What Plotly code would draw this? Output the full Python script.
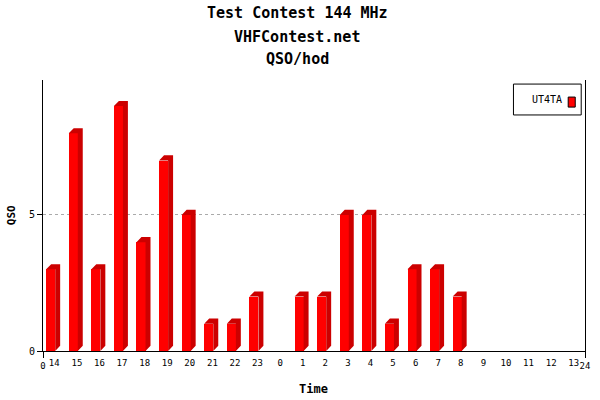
import plotly.graph_objects as go

categories = ["14", "15", "16", "17", "18", "19", "20", "21", "22", "23", "0",
              "1", "2", "3", "4", "5", "6", "7", "8", "9", "10", "11", "12", "13"]
qso = [3, 8, 3, 9, 4, 7, 5, 1, 1, 2, 0, 2, 2, 5, 5, 1, 3, 3, 2, 0, 0, 0, 0, 0]
series_name = "UT4TA"
title_lines = ["Test Contest 144 MHz", "VHFContest.net", "QSO/hod"]

FONT = "DejaVu Sans Mono"
FRONT = "#FF0000"
SIDE = "#CC0000"

# bar geometry in slot units
OFF = 0.14
W = 0.40
D = 0.22
DY = 0.19

centers = [i + OFF + W / 2 for i in range(len(categories))]

# side/top faces (3D effect) built from the data values
px, py = [], []
for i, v in enumerate(qso):
    if v <= 0:
        continue
    x0 = i + OFF
    x1 = x0 + W
    px += [x1, x1 + D, x1 + D, x0 + D, x0, x1, x1, None]
    py += [0, DY, v + DY, v + DY, v, v, 0, None]

fig = go.Figure()
fig.add_trace(go.Scatter(x=px, y=py, mode="lines", fill="toself",
                         fillcolor=SIDE, line=dict(width=0, color=SIDE),
                         hoverinfo="skip", showlegend=False))
fig.add_trace(go.Bar(x=centers, y=qso, width=W, marker=dict(color=FRONT, line=dict(width=0)),
                     name=series_name, showlegend=False))
fig.add_trace(go.Scatter(x=[i + 0.5 for i in range(len(categories))], y=[None] * len(categories),
                         xaxis="x2", showlegend=False, hoverinfo="skip"))

fig.update_layout(
    width=600, height=400,
    margin=dict(l=43, r=10, t=80, b=49),
    paper_bgcolor="white", plot_bgcolor="white",
    font=dict(family=FONT, color="black"),
    bargap=0,
    xaxis=dict(range=[0, 24], tickmode="array", tickvals=[0, 24], ticktext=["0", "24"],
               ticks="outside", ticklen=6, tickcolor="black", showline=True, linecolor="black",
               linewidth=1, showgrid=False, zeroline=False, tickfont=dict(size=9, family=FONT)),
    xaxis2=dict(range=[0, 24], overlaying="x", side="bottom", tickmode="array",
                tickvals=[i + 0.5 for i in range(len(categories))], ticktext=categories,
                ticks="outside", ticklen=3, tickcolor="rgba(0,0,0,0)", showline=False,
                showgrid=False, zeroline=False, tickfont=dict(size=9, family=FONT)),
    yaxis=dict(range=[0, 9.96], tickmode="array", tickvals=[0, 5], ticktext=["0", "5"],
               ticks="outside", ticklen=5, tickcolor="black", showline=True, mirror=True,
               linecolor="black", linewidth=1, showgrid=True, gridcolor="#aaaaaa",
               griddash="dot", zeroline=False, tickfont=dict(size=10, family=FONT)),
)

ty = [1.247, 1.159, 1.077]
for t, y in zip(title_lines, ty):
    fig.add_annotation(text="<b>" + t + "</b>", xref="paper", yref="paper", x=0.469, y=y,
                       showarrow=False, font=dict(size=15, family=FONT), xanchor="center",
                       yanchor="middle")

fig.add_annotation(text="<b>Time</b>", xref="paper", yref="paper", x=0.499, y=-0.140,
                   showarrow=False, font=dict(size=12, family=FONT), yanchor="middle")
fig.add_annotation(text="<b>QSO</b>", xref="paper", yref="paper", x=-0.0567, y=0.502,
                   showarrow=False, textangle=-90, font=dict(size=11, family=FONT),
                   xanchor="center", yanchor="middle")

# legend box (symbol to the right of text)
fig.add_shape(type="rect", xref="paper", yref="paper", x0=0.868, x1=0.993, y0=0.871, y1=0.985,
              line=dict(color="black", width=1), fillcolor="white")
fig.add_shape(type="rect", xref="paper", yref="paper", x0=0.969, x1=0.982, y0=0.900, y1=0.937,
              line=dict(color="black", width=1), fillcolor=FRONT)
fig.add_annotation(text=series_name, xref="paper", yref="paper", x=0.929, y=0.928,
                   showarrow=False, font=dict(size=10, family=FONT), xanchor="center",
                   yanchor="middle")

fig.write_html("out.html", config={"displayModeBar": False},
               post_script="document.body.style.margin='0px';")
